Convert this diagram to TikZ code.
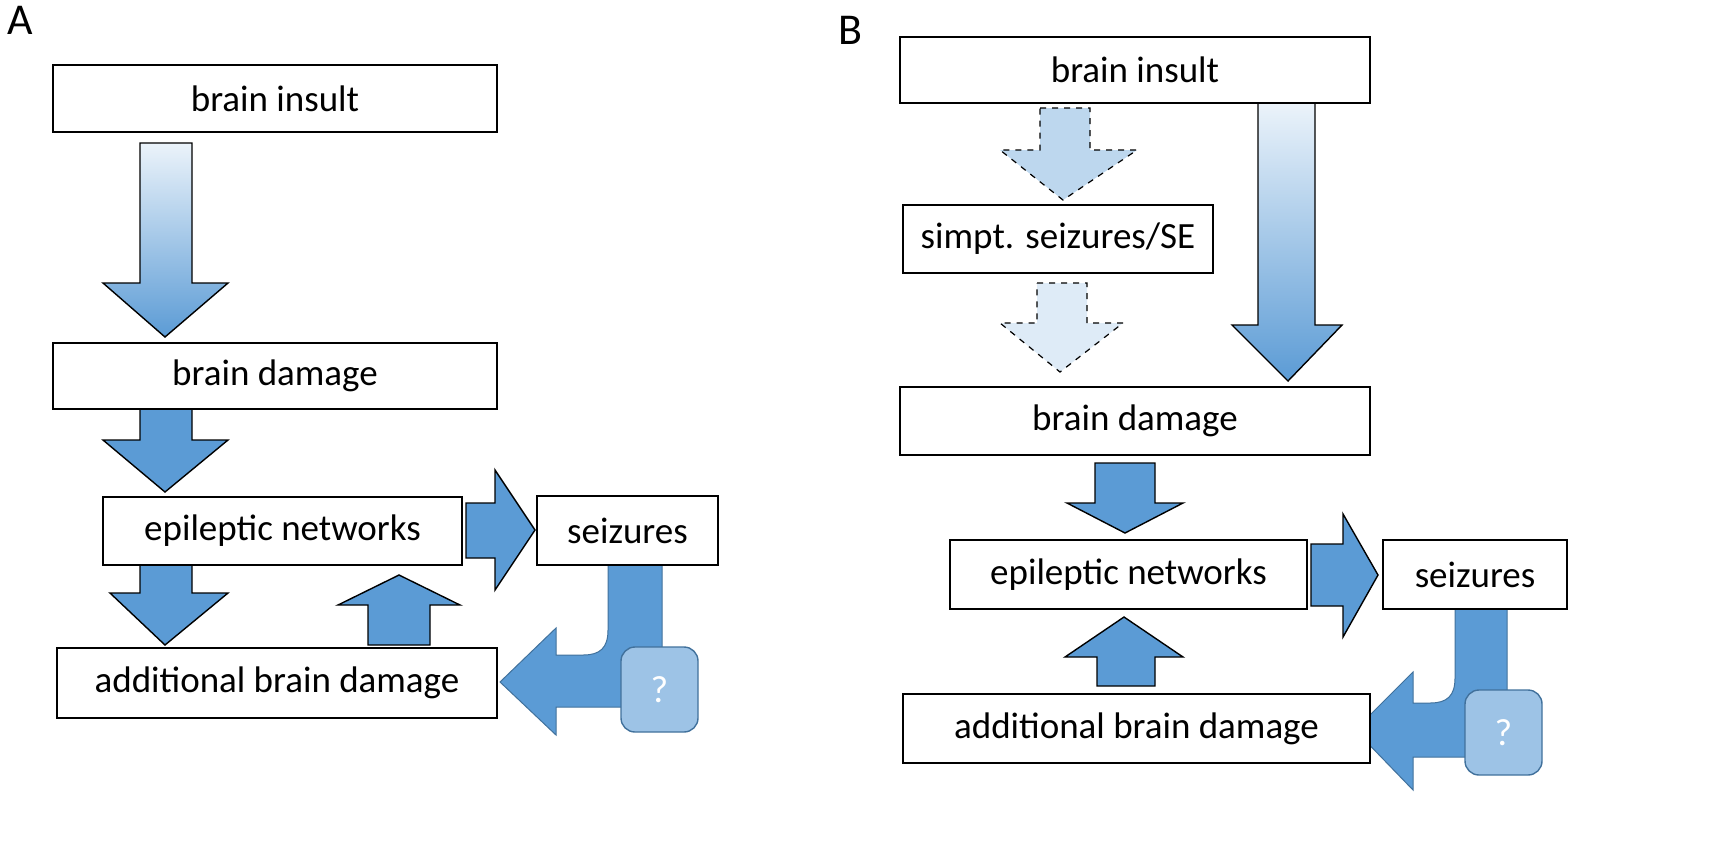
\documentclass[tikz,border=0pt]{standalone}
\usepackage{fontspec}
\setmainfont{Carlito}
\usepackage{xcolor}
\definecolor{arrblue}{HTML}{5B9BD5}
\definecolor{arrline}{HTML}{41719C}
\definecolor{lightblue}{HTML}{BDD7EE}
\definecolor{paleblue}{HTML}{DEEBF7}
\definecolor{qblue}{HTML}{9DC3E6}
\begin{document}
\begin{tikzpicture}[x=0.5pt,y=-0.5pt,
  box/.style={draw=black,fill=white,line width=0.8pt,inner sep=0pt,font=\fontsize{18.5}{22}\selectfont},
  barrow/.style={draw=black,fill=arrblue,line width=0.7pt,line join=miter},
  larrow/.style={draw=arrline,fill=arrblue,line width=0.5pt},
  garrow/.style={draw=black,top color=paleblue!60!white,bottom color=arrblue,line width=0.7pt},
  darrow/.style={draw=black,dashed,line width=0.6pt},
  qbox/.style={draw=arrline,fill=qblue,rounded corners=7pt,line width=0.7pt,text=white,font=\fontsize{19}{22}\selectfont}]
\useasboundingbox (0,0) rectangle (1711,853);

% panel labels
\node[font=\fontsize{22}{26}\selectfont] (labA) at (20,20) {A};
\node[font=\fontsize{22}{26}\selectfont] (labB) at (850,30) {B};

%% Panel A arrows
\draw[garrow] (140,143) -- (192,143) -- (192,283) -- (228,283) -- (165,337) -- (103,283) -- (140,283) -- cycle;
\draw[barrow] (140,409) -- (192,409) -- (192,440) -- (228,440) -- (165,492) -- (103,440) -- (140,440) -- cycle;
\draw[barrow] (140,560) -- (192,560) -- (192,593) -- (228,593) -- (165,645) -- (110,593) -- (140,593) -- cycle;
\draw[barrow] (466,503) -- (495,503) -- (495,470) -- (535,530) -- (495,590) -- (495,558) -- (466,558) -- cycle;
\draw[barrow] (368,645) -- (430,645) -- (430,605) -- (460,605) -- (399,575) -- (338,605) -- (368,605) -- cycle;
\draw[larrow] (608,565) -- (608,630) .. controls (608,648) and (600,655) .. (583,655) -- (556,655) -- (556,628)
  -- (500,682) -- (556,735) -- (556,707) -- (632,707) .. controls (652,707) and (662,697) .. (662,677) -- (662,565) -- cycle;

%% Panel A boxes
\node[box,minimum width=222pt,minimum height=33.5pt] (insA) at (275,98.5) {brain insult};
\node[box,minimum width=222pt,minimum height=33pt] (damA) at (275,376) {brain damage};
\node[box,minimum width=179.5pt,minimum height=34pt] (epiA) at (282.5,531) {epileptic networks};
\node[box,minimum width=90.5pt,minimum height=34.5pt] (seiA) at (627.5,530.5) {seizures};
\node[box,minimum width=220pt,minimum height=35pt] (addA) at (277,683) {additional brain damage};
\node[qbox,minimum width=38.5pt,minimum height=42.5pt] (qA) at (659.5,689.5) {?};

%% Panel B arrows
\draw[darrow,fill=lightblue] (1040,108) -- (1090,108) -- (1090,150) -- (1137,150) -- (1063,200) -- (1000,150) -- (1040,150) -- cycle;
\draw[darrow,fill=paleblue] (1037,283) -- (1087,283) -- (1087,323) -- (1123,323) -- (1060,372) -- (1000,323) -- (1037,323) -- cycle;
\draw[garrow] (1258,103) -- (1315,103) -- (1315,325) -- (1342,325) -- (1288,381) -- (1232,325) -- (1258,325) -- cycle;
\draw[barrow] (1095,463) -- (1155,463) -- (1155,503) -- (1183,503) -- (1125,533) -- (1067,503) -- (1095,503) -- cycle;
\draw[barrow] (1311,544) -- (1343,544) -- (1343,514) -- (1378,575) -- (1343,637) -- (1343,606) -- (1311,606) -- cycle;
\draw[barrow] (1097,686) -- (1155,686) -- (1155,657) -- (1183,657) -- (1124,617) -- (1065,657) -- (1097,657) -- cycle;
\draw[larrow] (1455,609) -- (1455,678) .. controls (1455,696) and (1447,703) .. (1430,703) -- (1413,703) -- (1413,672)
  -- (1355,730) -- (1413,790) -- (1413,757) -- (1477,757) .. controls (1497,757) and (1507,747) .. (1507,727) -- (1507,609) -- cycle;

%% Panel B boxes
\node[box,minimum width=235pt,minimum height=33pt] (insB) at (1135,70) {brain insult};
\node[box,minimum width=155pt,minimum height=34pt] (simB) at (1058,239) {simpt. seizures/SE};
\node[box,minimum width=235pt,minimum height=34pt] (damB) at (1135,421) {brain damage};
\node[box,minimum width=178.5pt,minimum height=34.5pt] (epiB) at (1128.5,574.5) {epileptic networks};
\node[box,minimum width=92pt,minimum height=34.5pt] (seiB) at (1475,574.5) {seizures};
\node[box,minimum width=233.5pt,minimum height=34.5pt] (addB) at (1136.5,728.5) {additional brain damage};
\node[qbox,minimum width=38.5pt,minimum height=42.5pt] (qB) at (1503.5,732.5) {?};
\end{tikzpicture}
\end{document}
